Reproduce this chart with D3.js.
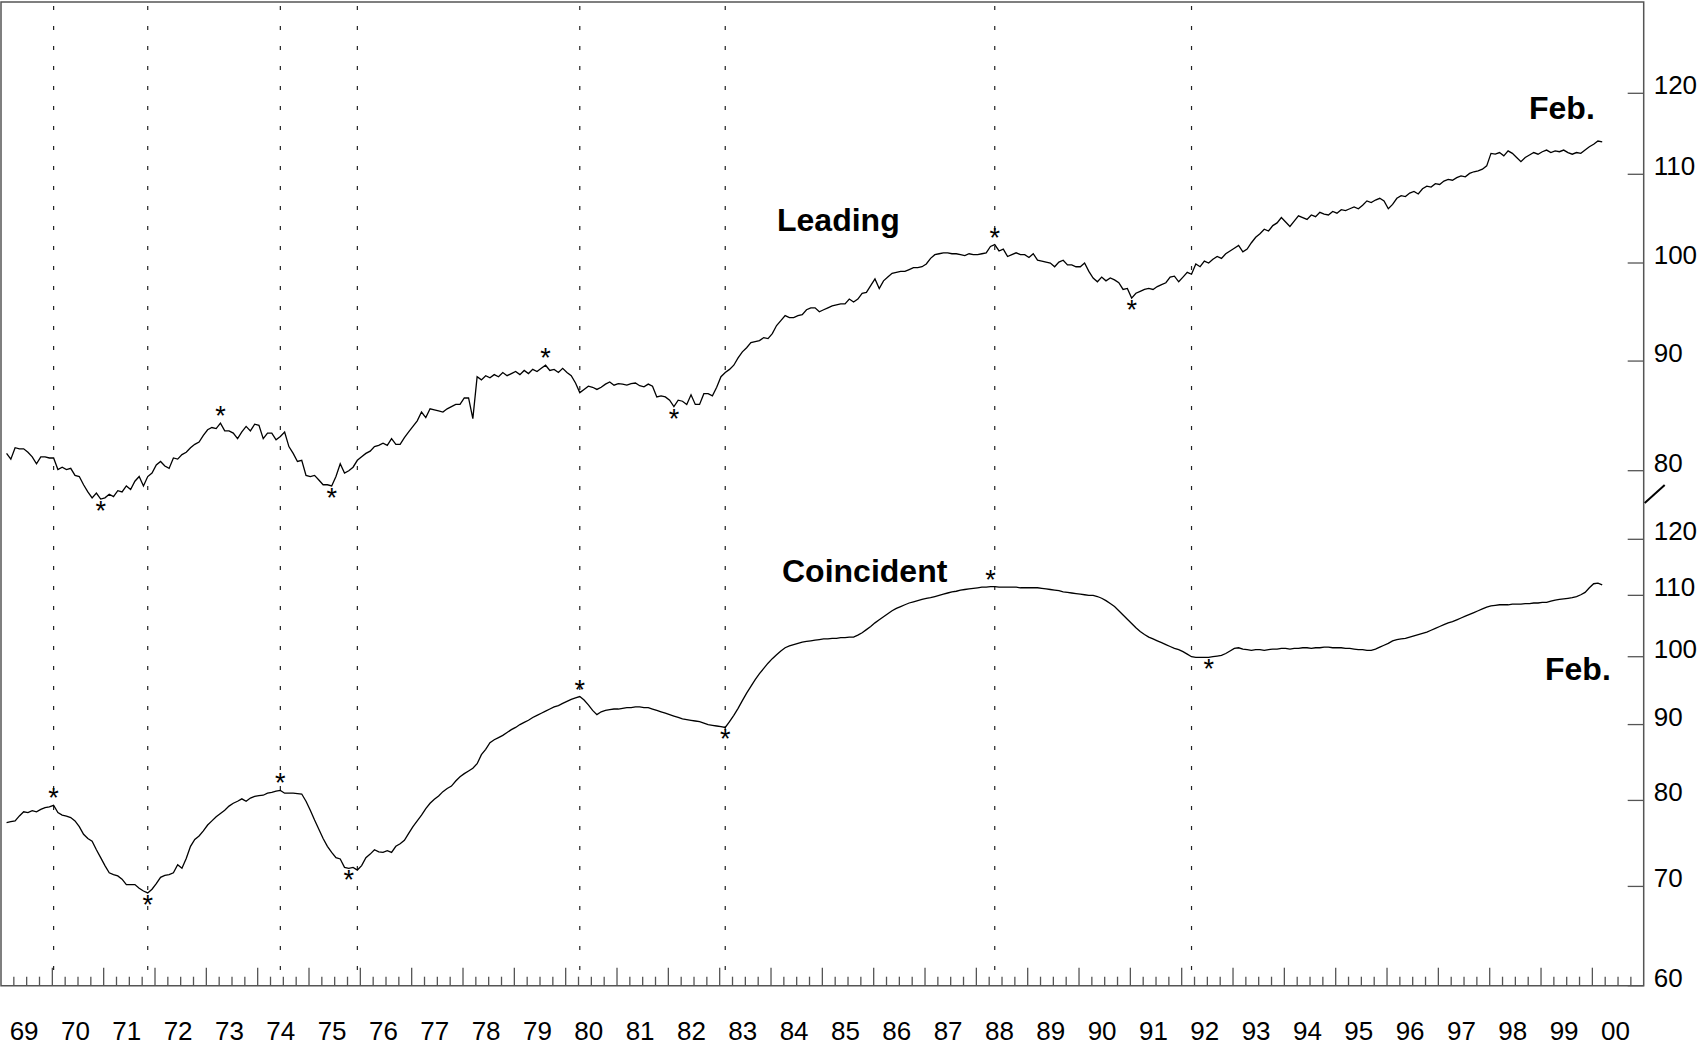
<!DOCTYPE html>
<html lang="en">
<head>
<meta charset="utf-8">
<script src="https://d3js.org/d3.v7.min.js"></script>
<style type="text/css">
body { margin: 0; background: #fff; }
svg text { font-family: "Liberation Sans", Arial, sans-serif; fill: #000; }
</style>
</head>
<body>
<script type="text/javascript">

// monthly index values, Jan 1969 .. Feb 2000
var leadingValues = [
  81.5, 81.0, 82.0, 81.9, 81.9, 81.6, 81.2, 80.6, 81.2, 81.2, 81.1, 81.1,
  80.1, 80.3, 80.1, 80.2, 79.6, 79.5, 78.8, 78.2, 77.7, 78.1, 77.6, 77.7,
  78.0, 77.8, 78.3, 78.2, 78.7, 78.4, 79.1, 79.5, 78.7, 79.5, 79.8, 80.5,
  80.8, 80.4, 80.2, 81.1, 81.0, 81.4, 81.6, 82.0, 82.3, 82.5, 83.1, 83.6,
  83.8, 83.7, 84.2, 83.5, 83.5, 83.3, 82.8, 83.4, 83.9, 83.5, 84.1, 84.0,
  82.8, 83.3, 83.3, 82.7, 83.0, 83.4, 82.1, 81.5, 80.8, 80.9, 79.6, 79.5,
  79.6, 79.2, 78.8, 78.8, 78.7, 79.5, 80.6, 79.8, 80.0, 80.3, 80.9, 81.2,
  81.5, 81.7, 82.1, 82.2, 82.4, 82.2, 82.8, 82.3, 82.3, 82.9, 83.4, 83.9,
  84.4, 85.2, 84.7, 85.5, 85.4, 85.3, 85.2, 85.5, 85.7, 85.9, 85.9, 86.5,
  86.5, 84.6, 88.5, 88.2, 88.6, 88.4, 88.7, 88.5, 88.9, 88.6, 88.8, 89.0,
  88.7, 89.1, 88.8, 89.2, 89.0, 89.3, 89.6, 89.1, 89.2, 88.9, 89.3, 88.9,
  88.6, 87.9, 87.0, 87.3, 87.6, 87.5, 87.3, 87.5, 87.8, 88.0, 87.7, 87.85,
  87.8, 87.7, 87.85, 87.9, 87.65, 87.55, 87.8, 87.6, 86.6, 86.7, 86.6, 86.3,
  85.7, 86.3, 86.2, 85.9, 86.8, 85.9, 85.9, 86.9, 86.9, 86.7, 87.5, 88.5,
  88.9, 89.2, 89.6, 90.3, 90.9, 91.3, 91.8, 91.9, 92.0, 92.3, 92.2, 92.7,
  93.5, 94.0, 94.5, 94.3, 94.3, 94.5, 94.6, 95.1, 95.3, 95.3, 94.9, 95.1,
  95.3, 95.5, 95.6, 95.7, 95.7, 96.2, 95.9, 96.2, 96.8, 96.9, 97.6, 98.3,
  97.3, 98.1, 98.5, 98.9, 99.0, 99.1, 99.1, 99.3, 99.5, 99.5, 99.6, 99.9,
  100.5, 100.9, 101.0, 101.1, 101.1, 101.0, 101.0, 100.9, 100.8, 101.0, 100.9, 100.9,
  101.0, 101.1, 101.8, 102.0, 101.3, 101.5, 100.7, 100.9, 101.1, 100.9, 100.9, 100.6,
  101.0, 100.3, 100.2, 100.1, 100.0, 99.6, 100.1, 100.3, 99.8, 99.8, 99.6, 99.6,
  100.0, 99.1, 98.4, 98.0, 98.5, 98.1, 98.4, 98.2, 97.9, 97.2, 97.3, 96.3,
  96.8, 97.0, 97.2, 97.3, 97.2, 97.5, 97.7, 97.9, 98.5, 98.6, 98.0, 98.5,
  99.0, 98.8, 99.9, 99.6, 100.2, 100.0, 100.4, 100.7, 100.5, 101.0, 101.3, 101.6,
  101.9, 101.2, 101.5, 102.2, 102.8, 103.2, 103.7, 103.5, 104.1, 104.4, 105.0, 104.5,
  104.0, 104.6, 105.2, 105.0, 104.8, 105.3, 105.1, 105.6, 105.4, 105.3, 105.7, 105.5,
  105.9, 105.8, 106.0, 106.2, 106.0, 106.4, 106.9, 106.7, 107.0, 107.2, 106.9, 106.0,
  106.5, 107.2, 107.5, 107.4, 107.8, 108.0, 107.7, 108.3, 108.6, 108.5, 108.9, 108.8,
  109.2, 109.4, 109.3, 109.6, 109.8, 109.7, 110.1, 110.3, 110.4, 110.6, 111.0, 112.5,
  112.4, 112.6, 112.2, 112.8, 112.5, 112.0, 111.5, 112.0, 112.3, 112.6, 112.4, 112.7,
  112.9, 112.6, 112.8, 112.7, 112.9, 112.6, 112.4, 112.6, 112.5, 112.9, 113.3, 113.6,
  114.0, 113.9
];

var coincidentValues = [
  77.3, 77.4, 77.5, 78.1, 78.6, 78.5, 78.75, 78.6, 78.9, 79.1, 79.2, 79.4,
  78.5, 78.2, 78.06, 77.9, 77.5, 76.8, 75.9, 75.4, 75.1, 74.1, 73.2, 72.3,
  71.5, 71.3, 71.15, 70.8, 70.2, 70.2, 70.2, 69.8, 69.5, 69.3, 69.7, 70.3,
  71.0, 71.2, 71.3, 71.5, 72.4, 72.0, 73.1, 74.5, 75.3, 75.7, 76.3, 77.0,
  77.5, 78.0, 78.4, 78.8, 79.3, 79.65, 79.9, 80.2, 79.9, 80.3, 80.5, 80.6,
  80.65, 80.9, 81.0, 81.15, 81.25, 80.9, 80.9, 80.9, 80.85, 80.8, 79.9, 78.8,
  77.6, 76.5, 75.4, 74.5, 73.8, 73.2, 73.05, 72.1, 72.0, 72.1, 71.8, 72.3,
  73.2, 73.6, 74.1, 73.85, 73.8, 74.0, 73.8, 74.5, 74.8, 75.2, 76.0, 76.8,
  77.5, 78.2, 79.0, 79.65, 80.15, 80.55, 81.1, 81.5, 81.8, 82.45, 83.0, 83.4,
  83.75, 84.1, 84.7, 85.9, 86.6, 87.5, 87.9, 88.2, 88.5, 88.9, 89.3, 89.6,
  90.0, 90.3, 90.6, 91.0, 91.3, 91.6, 91.9, 92.2, 92.5, 92.7, 93.0, 93.3,
  93.6, 93.8, 94.0, 93.5, 92.8, 92.0, 91.4, 91.8, 92.0, 92.1, 92.2, 92.2,
  92.3, 92.4, 92.4, 92.5, 92.5, 92.4, 92.4, 92.2, 92.0, 91.8, 91.6, 91.4,
  91.2, 91.0, 90.8, 90.7, 90.6, 90.5, 90.4, 90.2, 90.0, 89.9, 89.8, 89.7,
  89.6, 90.4, 91.3, 92.3, 93.4, 94.5, 95.5, 96.5, 97.4, 98.2, 99.0, 99.7,
  100.3, 100.9, 101.4, 101.7, 101.9, 102.1, 102.3, 102.4, 102.5, 102.6, 102.7, 102.8,
  102.8, 102.9, 102.9, 103.0, 103.0, 103.1, 103.1, 103.4, 103.8, 104.3, 104.8, 105.4,
  105.9, 106.4, 106.9, 107.4, 107.8, 108.1, 108.4, 108.7, 108.9, 109.1, 109.3, 109.5,
  109.6, 109.8, 110.0, 110.2, 110.4, 110.6, 110.7, 110.9, 111.0, 111.1, 111.2, 111.3,
  111.4, 111.4, 111.5, 111.5, 111.4, 111.4, 111.4, 111.4, 111.4, 111.3, 111.3, 111.3,
  111.3, 111.3, 111.2, 111.1, 111.0, 110.9, 110.8, 110.6, 110.5, 110.4, 110.3, 110.2,
  110.1, 110.0, 110.0, 109.8, 109.5, 109.1, 108.6, 108.1, 107.4, 106.7, 106.0, 105.3,
  104.6, 104.0, 103.5, 103.1, 102.8, 102.5, 102.2, 101.9, 101.6, 101.3, 101.1, 100.8,
  100.4, 100.0, 99.9, 99.9, 99.9, 99.9, 100.0, 100.1, 100.2, 100.5, 100.9, 101.3,
  101.4, 101.2, 101.1, 101.0, 101.1, 101.1, 101.0, 101.1, 101.2, 101.2, 101.3, 101.3,
  101.2, 101.3, 101.3, 101.4, 101.4, 101.3, 101.4, 101.4, 101.5, 101.5, 101.4, 101.4,
  101.4, 101.3, 101.3, 101.2, 101.1, 101.1, 101.0, 101.0, 101.2, 101.5, 101.8, 102.1,
  102.5, 102.7, 102.8, 102.9, 103.1, 103.3, 103.5, 103.7, 103.9, 104.2, 104.5, 104.8,
  105.1, 105.4, 105.6, 105.9, 106.2, 106.5, 106.8, 107.1, 107.4, 107.7, 108.0, 108.2,
  108.3, 108.4, 108.4, 108.4, 108.5, 108.5, 108.5, 108.6, 108.6, 108.7, 108.7, 108.8,
  108.8, 109.0, 109.2, 109.3, 109.4, 109.5, 109.6, 109.8, 110.1, 110.5, 111.3, 112.0,
  112.1, 111.8
];

var yearLabels = ["69","70","71","72","73","74","75","76","77","78","79","80","81","82","83","84",
  "85","86","87","88","89","90","91","92","93","94","95","96","97","98","99","00"];
var leadingTicks = [80, 90, 100, 110, 120];
var coincidentTicks = [60, 70, 80, 90, 100, 110, 120];

// turning points of the coincident index (dotted lines)
var cycleDates = ["1969-12","1971-10","1974-05","1975-11","1980-03","1983-01","1988-04","1992-02"];
var leadingPeaks = ["1973-03","1979-07","1988-04"];
var leadingTroughs = ["1970-11","1975-05","1982-01","1990-12"];
var coincidentPeaks = ["1969-12","1974-05","1980-03","1988-03"];
var coincidentTroughs = ["1971-10","1975-09","1983-01","1992-06"];

var width = 1698;
var height = 1045;
var plotLeft = 1, plotRight = 1643.7, plotTop = 2, plotBottom = 985.7;

var x = d3.scaleLinear().domain([1969, 2001]).range([plotLeft, plotRight]);
var yLead = d3.scaleLog().domain([80, 120]).range([470.7, 93.3]);
var yCoin = d3.scaleLog().domain([60, 120]).range([plotBottom, 539.3]);

function monthIndex(s) {
  var p = s.split("-");
  return (+p[0] - 1969) * 12 + (+p[1] - 1);
}
// monthly points sit a little past the month start
function monthX(m) { return x(1969 + (m + 1.3) / 12); }

var svg = d3.select("body").append("svg")
  .attr("width", width)
  .attr("height", height);

svg.append("rect").attr("width", width).attr("height", height).attr("fill", "#fff");

// dotted cycle lines
svg.selectAll(".cycle")
  .data(cycleDates)
  .enter().append("line")
  .attr("x1", function(d) { return monthX(monthIndex(d)); })
  .attr("x2", function(d) { return monthX(monthIndex(d)); })
  .attr("y1", plotTop + 4)
  .attr("y2", plotBottom)
  .attr("stroke", "#222")
  .attr("stroke-width", 1.2)
  .attr("stroke-dasharray", "4,16");

// frame
svg.append("path")
  .attr("d", "M" + plotLeft + "," + plotBottom + "V" + plotTop + "H" + plotRight + "V" + plotBottom + "Z")
  .attr("fill", "none")
  .attr("stroke", "#555")
  .attr("stroke-width", 1.5);

// quarterly ticks on the time axis
var quarters = d3.range(1, 32 * 4);
svg.selectAll(".qtick")
  .data(quarters)
  .enter().append("line")
  .attr("x1", function(q) { return x(1969 + q / 4); })
  .attr("x2", function(q) { return x(1969 + q / 4); })
  .attr("y1", plotBottom)
  .attr("y2", function(q) { return q % 4 === 0 ? plotBottom - 18 : plotBottom - 9; })
  .attr("stroke", "#555")
  .attr("stroke-width", 1.3);

svg.selectAll(".year")
  .data(yearLabels)
  .enter().append("text")
  .attr("x", function(d, i) { return x(1969 + i + 0.45); })
  .attr("y", 1040)
  .attr("text-anchor", "middle")
  .style("font-size", "26px")
  .text(function(d) { return d; });

// right hand scales
function rightAxis(scale, ticks) {
  var g = svg.append("g");
  g.selectAll("line")
    .data(ticks)
    .enter().append("line")
    .attr("x1", plotRight - 16)
    .attr("x2", plotRight)
    .attr("y1", function(d) { return scale(d); })
    .attr("y2", function(d) { return scale(d); })
    .attr("stroke", "#555")
    .attr("stroke-width", 1.3);
  g.selectAll("text")
    .data(ticks)
    .enter().append("text")
    .attr("x", plotRight + 10)
    .attr("y", function(d) { return scale(d) + 1; })
    .style("font-size", "26px")
    .text(function(d) { return d; });
}
rightAxis(yLead, leadingTicks);
rightAxis(yCoin, coincidentTicks);

// scale break mark
svg.append("line")
  .attr("x1", plotRight + 1).attr("y1", 503)
  .attr("x2", plotRight + 21).attr("y2", 485)
  .attr("stroke", "#000")
  .attr("stroke-width", 2);

// series
var leadLine = d3.line()
  .x(function(d, i) { return monthX(i); })
  .y(function(d) { return yLead(d); });
var coinLine = d3.line()
  .x(function(d, i) { return monthX(i); })
  .y(function(d) { return yCoin(d); });

svg.append("path")
  .attr("d", leadLine(leadingValues))
  .attr("fill", "none")
  .attr("stroke", "#000")
  .attr("stroke-width", 1.3);

svg.append("path")
  .attr("d", coinLine(coincidentValues))
  .attr("fill", "none")
  .attr("stroke", "#000")
  .attr("stroke-width", 1.3);

// asterisks at turning points
function stars(dates, values, scale, isPeak) {
  svg.selectAll(null)
    .data(dates)
    .enter().append("text")
    .attr("x", function(d) { return monthX(monthIndex(d)); })
    .attr("y", function(d) {
      var v = values[monthIndex(d)];
      return isPeak ? scale(v) + 2 : scale(v) + 21;
    })
    .attr("text-anchor", "middle")
    .style("font-size", "27px")
    .text("*");
}
stars(leadingPeaks, leadingValues, yLead, true);
stars(leadingTroughs, leadingValues, yLead, false);
stars(coincidentPeaks, coincidentValues, yCoin, true);
stars(coincidentTroughs, coincidentValues, yCoin, false);

// labels
function label(txt, xPos, yPos) {
  svg.append("text")
    .attr("x", xPos)
    .attr("y", yPos)
    .style("font-size", "32px")
    .style("font-weight", "bold")
    .text(txt);
}
label("Leading", 777, 231);
label("Coincident", 782, 582);
label("Feb.", 1529, 119);
label("Feb.", 1545, 680);

</script>
</body>
</html>
